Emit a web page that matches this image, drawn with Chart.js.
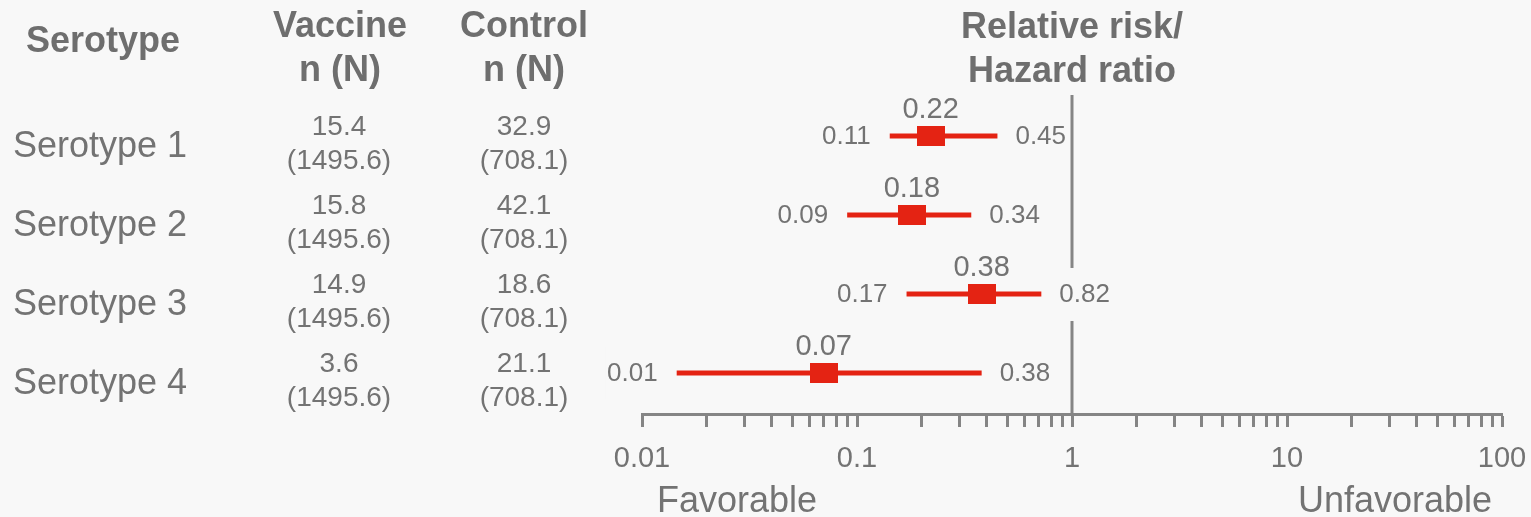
<!DOCTYPE html>
<html>
<head>
<meta charset="utf-8">
<script src="https://cdn.jsdelivr.net/npm/chart.js@4/dist/chart.umd.min.js"></script>
<style>
  body { margin: 0; background: #f8f8f8; }
  canvas { display: block; background: #f8f8f8; }
</style>
</head>
<body>
<canvas id="forest" width="1531" height="517"></canvas>
<script>
// table columns
const serotypes = ['Serotype 1', 'Serotype 2', 'Serotype 3', 'Serotype 4'];
const vaccineCases = [15.4, 15.8, 14.9, 3.6];
const vaccineTotal = [1495.6, 1495.6, 1495.6, 1495.6];
const controlCases = [32.9, 42.1, 18.6, 21.1];
const controlTotal = [708.1, 708.1, 708.1, 708.1];

// relative risk / hazard ratio with CI (as drawn) and the printed CI labels
const estimate = [0.22, 0.18, 0.38, 0.07];
const lower = [0.142, 0.09, 0.17, 0.0145];
const upper = [0.45, 0.34, 0.72, 0.38];
const lowerLabel = ['0.11', '0.09', '0.17', '0.01'];
const upperLabel = ['0.45', '0.34', '0.82', '0.38'];

const decadeTicks = [0.01, 0.1, 1, 10, 100];
const tickLabels = ['0.01', '0.1', '1', '10', '100'];

const FONT = "'Liberation Sans', Arial, sans-serif";
const textGray = '#737373';
const headGray = '#6e6e6e';
const axisGray = '#858585';
const red = '#e42313';
const bg = '#f8f8f8';

// rectangular marker
const marker = document.createElement('canvas');
marker.width = 28;
marker.height = 20;
const mctx = marker.getContext('2d');
mctx.fillStyle = red;
mctx.fillRect(0, 0, 28, 20);

let minorTicks = [];
for (let e = -2; e < 2; e++) {
    for (let m = 1; m < 10; m++) {
        minorTicks.push(Number((m * Math.pow(10, e)).toPrecision(3)));
    }
}
minorTicks.push(100);

const yMin = 0.48, yMax = 4.52;

let datasets = [];
datasets.push({
    data: estimate.map((v, i) => ({ x: v, y: i + 1 })),
    showLine: false,
    pointStyle: marker,
    pointRadius: 14,
    order: 1
});
for (let i = 0; i < estimate.length; i++) {
    datasets.push({
        data: [{ x: lower[i], y: i + 1 }, { x: upper[i], y: i + 1 }],
        borderColor: red,
        borderWidth: 5,
        pointRadius: 0,
        order: 2
    });
}
datasets.push({
    data: [{ x: 1, y: yMin }, { x: 1, y: yMax }],
    borderColor: axisGray,
    borderWidth: 3,
    pointRadius: 0,
    order: 3
});

const forestText = {
    id: 'forestText',
    afterDraw(chart) {
        const ctx = chart.ctx;
        const xs = chart.scales.x;
        const ys = chart.scales.y;
        ctx.save();
        ctx.textBaseline = 'middle';

        // headers
        ctx.fillStyle = headGray;
        ctx.textAlign = 'center';
        ctx.font = 'bold 36px ' + FONT;
        ctx.fillText('Serotype', 103, 42);
        ctx.fillText('Vaccine', 340, 27);
        ctx.fillText('n (N)', 340, 71);
        ctx.fillText('Control', 524, 27);
        ctx.fillText('n (N)', 524, 71);
        ctx.fillText('Relative risk/', xs.getPixelForValue(1), 28);
        ctx.fillText('Hazard ratio', xs.getPixelForValue(1), 72);

        for (let i = 0; i < serotypes.length; i++) {
            const y = ys.getPixelForValue(i + 1);
            ctx.fillStyle = textGray;
            ctx.textAlign = 'left';
            ctx.font = '36px ' + FONT;
            ctx.fillText(serotypes[i], 13, y + 11);

            ctx.textAlign = 'center';
            ctx.font = '28px ' + FONT;
            ctx.fillText(vaccineCases[i].toFixed(1), 339, y - 9);
            ctx.fillText('(' + vaccineTotal[i].toFixed(1) + ')', 339, y + 25);
            ctx.fillText(controlCases[i].toFixed(1), 524, y - 9);
            ctx.fillText('(' + controlTotal[i].toFixed(1) + ')', 524, y + 25);

            // CI labels
            ctx.font = '26px ' + FONT;
            const lx = xs.getPixelForValue(lower[i]) - 19;
            const ux = xs.getPixelForValue(upper[i]) + 18;
            const lw = ctx.measureText(lowerLabel[i]).width;
            const uw = ctx.measureText(upperLabel[i]).width;
            ctx.fillStyle = bg;
            ctx.fillRect(lx - lw - 2, y - 26, lw + 4, 53);
            ctx.fillRect(ux - 2, y - 26, uw + 4, 53);
            ctx.fillStyle = textGray;
            ctx.textAlign = 'right';
            ctx.fillText(lowerLabel[i], lx, y + 1);
            ctx.textAlign = 'left';
            ctx.fillText(upperLabel[i], ux, y + 1);

            // estimate label
            ctx.textAlign = 'center';
            ctx.font = '29px ' + FONT;
            ctx.fillText(estimate[i].toFixed(2), xs.getPixelForValue(estimate[i]), y - 26);
        }

        ctx.font = '36px ' + FONT;
        ctx.textAlign = 'left';
        ctx.fillText('Favorable', xs.left + 15, 502);
        ctx.textAlign = 'right';
        ctx.fillText('Unfavorable', xs.right - 10, 502);
        ctx.restore();
    }
};

new Chart(document.getElementById('forest'), {
    type: 'line',
    data: { datasets: datasets },
    options: {
        responsive: false,
        animation: false,
        devicePixelRatio: 1,
        layout: { padding: { left: 642, right: 29, top: 95, bottom: 0 } },
        plugins: { legend: { display: false }, tooltip: { enabled: false } },
        scales: {
            x: {
                type: 'logarithmic',
                position: 'bottom',
                min: 0.01,
                max: 100,
                afterBuildTicks: s => {
                    s.ticks = minorTicks.map(v => ({ value: v, major: decadeTicks.includes(v) }));
                },
                afterFit: s => {
                    s.height = 103;
                    s.paddingLeft = 0;
                    s.paddingRight = 0;
                },
                ticks: {
                    autoSkip: false,
                    maxRotation: 0,
                    minRotation: 0,
                    padding: 15,
                    color: textGray,
                    font: { family: FONT, size: 29 },
                    callback: v => {
                        const i = decadeTicks.indexOf(v);
                        return i >= 0 ? tickLabels[i] : '';
                    }
                },
                grid: {
                    display: true,
                    drawOnChartArea: false,
                    drawTicks: true,
                    tickLength: 13,
                    tickWidth: 3,
                    tickColor: axisGray
                },
                border: { display: true, color: axisGray, width: 3 }
            },
            y: {
                type: 'linear',
                min: yMin,
                max: yMax,
                reverse: true,
                display: false
            }
        }
    },
    plugins: [forestText]
});
</script>
</body>
</html>
